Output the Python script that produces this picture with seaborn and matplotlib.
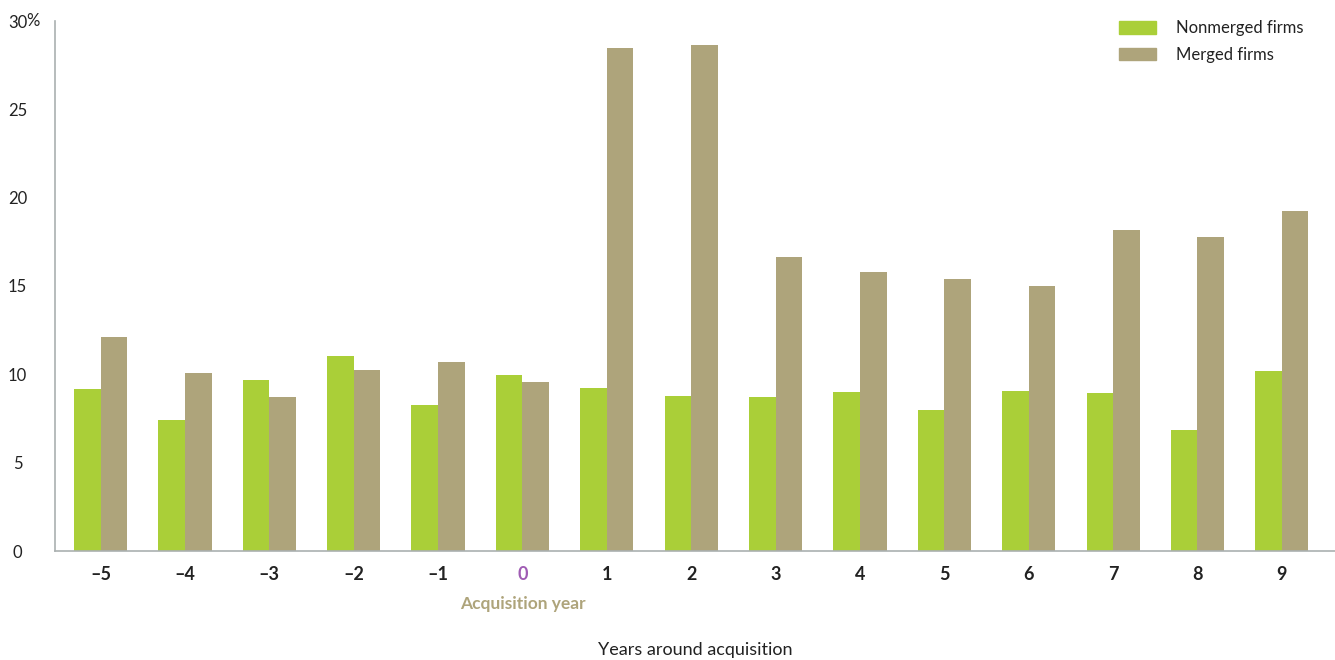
import matplotlib
matplotlib.use("Agg")
import matplotlib.pyplot as plt
import matplotlib.patches as mpatches
import seaborn as sns
import pandas as pd

years = ["\u20135", "\u20134", "\u20133", "\u20132", "\u20131", "0", "1", "2", "3", "4", "5", "6", "7", "8", "9"]
nonmerged = [9.17, 7.4, 9.68, 11.04, 8.26, 9.96, 9.22, 8.77, 8.72, 9.0, 7.98, 9.06, 8.94, 6.85, 10.19]
merged = [12.1, 10.07, 8.72, 10.24, 10.7, 9.56, 28.47, 28.64, 16.64, 15.79, 15.39, 15.0, 18.17, 17.77, 19.24]
series = ["Nonmerged firms", "Merged firms"]
yticks = [0, 5, 10, 15, 20, 25, 30]
ytick_labels = ["0", "5", "10", "15", "20", "25", "30"]

GREEN = "#aacf38"
TAN = "#aea47b"
DARK = "#222222"
SPINE = "#aab0b0"
PURPLE = "#a05cb4"

df = pd.DataFrame({
    "year": years * 2,
    "value": nonmerged + merged,
    "series": [series[0]] * len(years) + [series[1]] * len(years),
})

sns.set_theme(style="white")
plt.rcParams["font.family"] = ["Lato", "DejaVu Sans"]

fig = plt.figure(figsize=(13.35, 6.6), dpi=100)
ax = fig.add_axes([55 / 1335, 1 - 551 / 660, 1 - 55 / 1335, (551 - 21) / 660])

sns.barplot(data=df, x="year", y="value", hue="series", order=years,
            hue_order=series, palette=[GREEN, TAN], width=0.63,
            saturation=1, ax=ax, legend=False, edgecolor="none", linewidth=0)

ax.set_ylim(0, 30)
ax.set_xlim(-0.54, 14.63)
ax.set_yticks(yticks)
ax.set_yticklabels(ytick_labels)
for lbl in ax.get_yticklabels():
    lbl.set_horizontalalignment("center")
ax.tick_params(axis="y", length=0, pad=27, labelsize=12, labelcolor=DARK)
ax.tick_params(axis="x", length=0, pad=11, labelsize=13, labelcolor=DARK)
for lbl in ax.get_xticklabels():
    lbl.set_fontweight("bold")
ax.get_xticklabels()[5].set_color(PURPLE)

fig.text(26 / 1335, 1 - 21 / 660, "%", ha="left", va="center", fontsize=12, color=DARK)

for side in ["top", "right"]:
    ax.spines[side].set_visible(False)
for side in ["left", "bottom"]:
    ax.spines[side].set_color(SPINE)
    ax.spines[side].set_linewidth(1.2)

ax.set_ylabel("")
ax.set_xlabel("Years around acquisition", fontsize=13, color=DARK)
ax.xaxis.set_label_coords(0.5, (551 - 642) / 530)

ax.text(5, (551 - 604) / 530, "Acquisition year", transform=ax.get_xaxis_transform(),
        ha="center", va="center", fontsize=12.5, color=TAN, fontweight="bold")

handles = [mpatches.Patch(color=GREEN, label=series[0]),
           mpatches.Patch(color=TAN, label=series[1])]
fig.legend(handles=handles, loc="upper left", bbox_to_anchor=(1119 / 1335, 1 - 20 / 660),
           frameon=False, fontsize=12, handlelength=2.2, handleheight=0.8,
           handletextpad=1.2, labelspacing=0.65, borderpad=0, borderaxespad=0,
           labelcolor=DARK)

fig.savefig("out.png", dpi=100)
